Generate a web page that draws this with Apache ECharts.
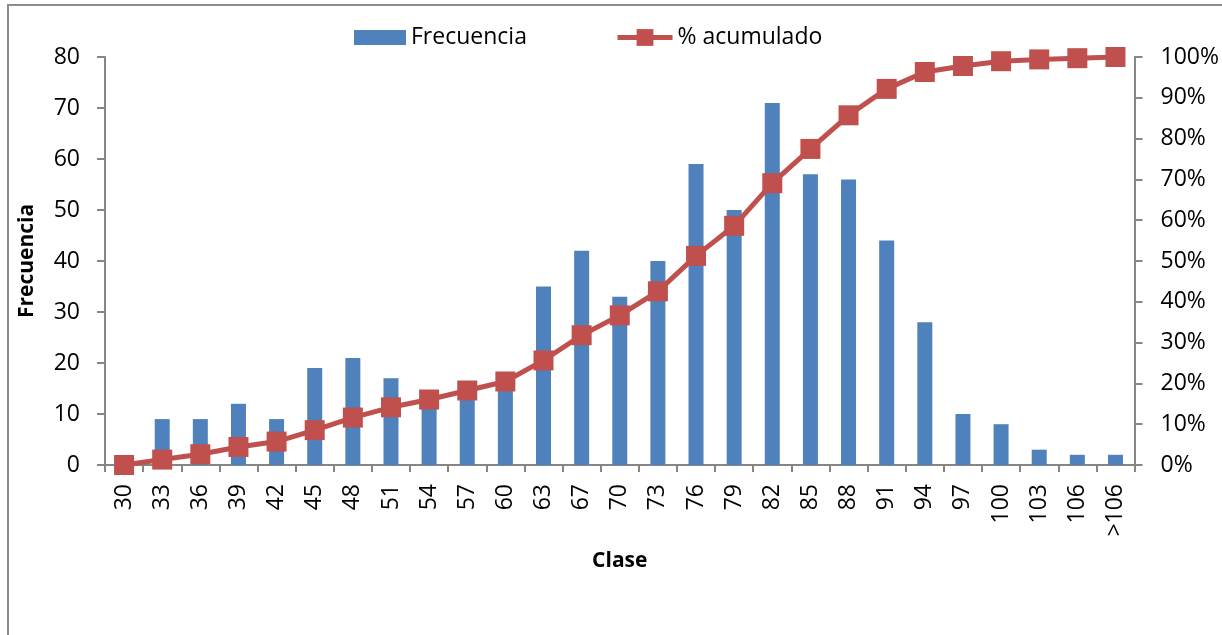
<!DOCTYPE html>
<html>
<head>
<meta charset="utf-8">
<script src="https://cdn.jsdelivr.net/npm/echarts@6/dist/echarts.min.js"></script>
<style>
  html, body { margin: 0; padding: 0; background: #ffffff; }
  #chart { width: 1222px; height: 635px; }
</style>
</head>
<body>
<div id="chart"></div>
<script>
// Class boundaries (x-axis categories)
const clases = ['30','33','36','39','42','45','48','51','54','57','60','63','67','70','73','76','79','82','85','88','91','94','97','100','103','106','>106'];

// Frequency per class
const frecuencia = [0, 9, 9, 12, 9, 19, 21, 17, 13, 15, 15, 35, 42, 33, 40, 59, 50, 71, 57, 56, 44, 28, 10, 8, 3, 2, 2];

// Cumulative percentage per class
const acumulado = [0, 1.33, 2.65, 4.42, 5.74, 8.54, 11.63, 14.14, 16.05, 18.26, 20.47, 25.63, 31.81, 36.67, 42.56, 51.25, 58.62, 69.07, 77.47, 85.71, 92.19, 96.32, 97.79, 98.97, 99.41, 99.71, 100];

const FONT = '"Open Sans", "DejaVu Sans", sans-serif';
const AXIS_GRAY = '#868686';
const BLUE = '#4F81BD';
const RED = '#C0504D';
const LABEL_SIZE = 23;

const chart = echarts.init(document.getElementById('chart'), null, { renderer: 'canvas' });

const legendText = { fontFamily: FONT, fontSize: LABEL_SIZE, color: '#000000' };

chart.setOption({
  backgroundColor: '#ffffff',
  animation: false,
  textStyle: { fontFamily: FONT },
  graphic: [{
    type: 'rect',
    silent: true,
    shape: { x: 8, y: 5, width: 1400, height: 1000 },
    style: { fill: 'none', stroke: '#8c8c8c', lineWidth: 2 }
  }],
  legend: [
    {
      top: 21,
      left: 349,
      itemWidth: 52,
      itemHeight: 15,
      itemGap: 0,
      textStyle: legendText,
      data: [{ name: 'Frecuencia', icon: 'rect' }]
    },
    {
      top: 21,
      left: 610,
      itemWidth: 55,
      itemHeight: 21,
      itemGap: 0,
      textStyle: legendText,
      data: [{ name: '% acumulado', lineStyle: { width: 5 } }]
    }
  ],
  grid: { left: 105, right: 85, top: 57, bottom: 170, containLabel: false },
  xAxis: {
    type: 'category',
    data: clases,
    name: 'Clase',
    nameLocation: 'middle',
    nameGap: 86,
    nameTextStyle: { fontFamily: FONT, fontSize: 21, fontWeight: 'bold', color: '#000000' },
    axisLine: { lineStyle: { color: AXIS_GRAY, width: 2 } },
    axisTick: { show: true, alignWithLabel: false, length: 7, lineStyle: { color: AXIS_GRAY, width: 2 } },
    axisLabel: { rotate: 90, margin: 19, fontFamily: FONT, fontSize: LABEL_SIZE, color: '#000000', interval: 0 }
  },
  yAxis: [
    {
      type: 'value',
      min: 0, max: 80, interval: 10,
      name: 'Frecuencia',
      nameLocation: 'middle',
      nameGap: 67,
      nameRotate: 90,
      nameTextStyle: { fontFamily: FONT, fontSize: 21, fontWeight: 'bold', color: '#000000' },
      axisLine: { show: true, lineStyle: { color: AXIS_GRAY, width: 2 } },
      axisTick: { show: true, length: 8, lineStyle: { color: AXIS_GRAY, width: 2 } },
      axisLabel: { margin: 25, fontFamily: FONT, fontSize: LABEL_SIZE, color: '#000000' },
      splitLine: { show: false }
    },
    {
      type: 'value',
      min: 0, max: 100, interval: 10,
      position: 'right',
      axisLine: { show: true, lineStyle: { color: AXIS_GRAY, width: 2 } },
      axisTick: { show: true, length: 8, lineStyle: { color: AXIS_GRAY, width: 2 } },
      axisLabel: { margin: 26, fontFamily: FONT, fontSize: LABEL_SIZE, color: '#000000', formatter: '{value}%' },
      splitLine: { show: false }
    }
  ],
  series: [
    {
      name: 'Frecuencia',
      type: 'bar',
      yAxisIndex: 0,
      data: frecuencia,
      barWidth: 15,
      itemStyle: { color: BLUE }
    },
    {
      name: '% acumulado',
      type: 'line',
      yAxisIndex: 1,
      data: acumulado,
      symbol: 'rect',
      symbolSize: 20,
      lineStyle: { color: RED, width: 5 },
      itemStyle: { color: RED },
      z: 5
    }
  ]
});
</script>
</body>
</html>
